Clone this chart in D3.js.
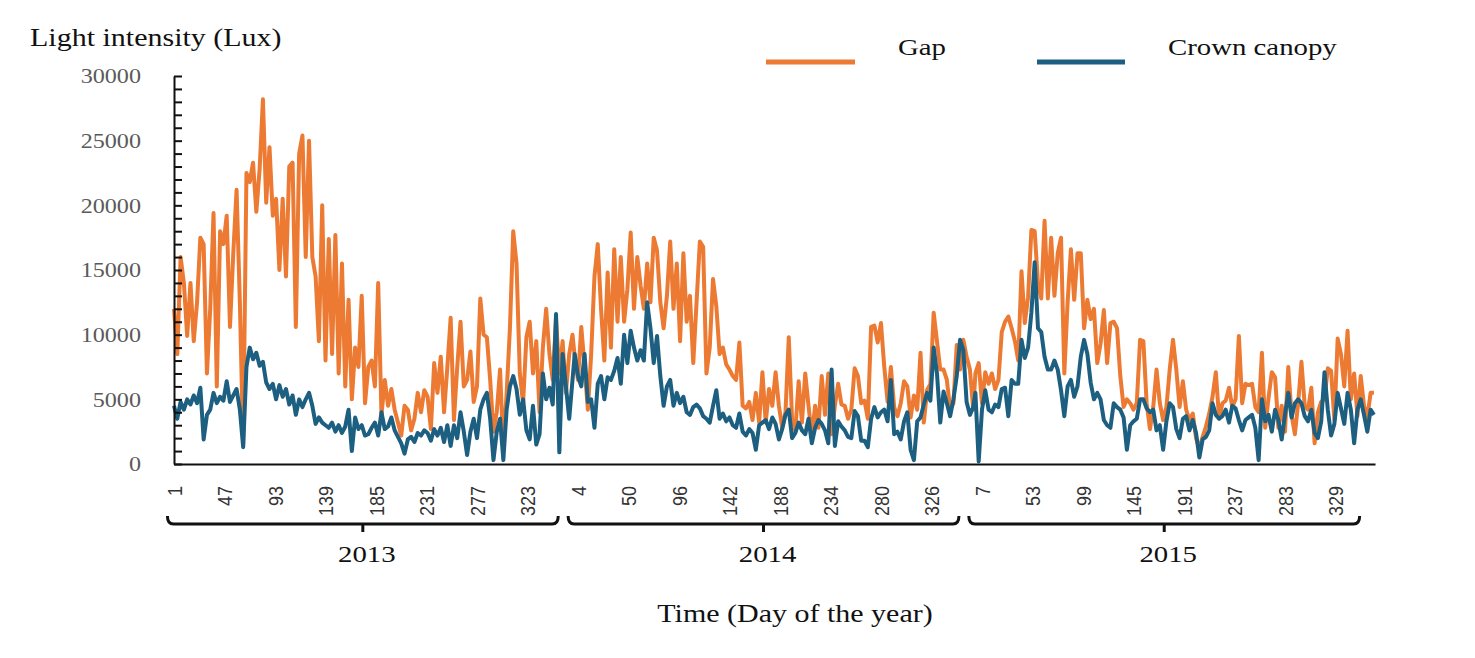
<!DOCTYPE html>
<html>
<head>
<meta charset="utf-8">
<script src="https://cdn.jsdelivr.net/npm/d3@7"></script>
<style>
  body { margin: 0; background: #fff; }
  svg { display: block; }
</style>
</head>
<body>
<svg width="1475" height="658"></svg>
<script>

// years on the x axis, each sampled every 3 days (day 1, 4, 7 ... 364)
var years = ["2013", "2014", "2015"];
var sampleDays = d3.range(1, 365, 3);

// day-of-year tick labels under each year
var tickDays = [
    [1, 47, 93, 139, 185, 231, 277, 323],
    [4, 50, 96, 142, 188, 234, 280, 326],
    [7, 53, 99, 145, 191, 237, 283, 329]
];

var yLabels = [0, 5000, 10000, 15000, 20000, 25000, 30000];

// Gap light intensity (Lux)
var gap2013 = [
    12000, 8500, 16000, 14000, 9900, 14000, 9500, 12500, 17500, 17000,
    7000, 12000, 19400, 6000, 18000, 17000, 19200, 10600, 16300, 21200,
    12500, 1500, 22500, 21800, 23300, 19500, 22800, 28200, 20200, 24500,
    19200, 20500, 15000, 20500, 14500, 23000, 23300, 10600, 24000, 25400,
    16000, 25000, 16000, 14500, 9500, 20000, 8000, 17400, 8500, 17700,
    7000, 15500, 6000, 12700, 5000, 9000, 7500, 13000, 4700, 7500,
    8000, 6000, 14000, 3800, 6500, 4500, 5800, 4200, 3200, 2200,
    4500, 4200, 2600, 3500, 5500, 4000, 5700, 5200, 2700, 7800,
    5500,
    8300, 4000, 7500, 11300, 3400, 7500, 11000, 6000, 6500, 8700,
    4800, 6000, 12800, 10000, 9800, 6500, 2500, 4000, 7300, 1200,
    5500, 10500, 18000, 15500, 7000, 4700, 9800, 11000, 7000, 9500,
    4000, 9000, 12000, 8500, 6500, 11200, 7000, 9500, 5500, 8500,
    10000
];
var gap2014 = [
    8300, 6500, 10600, 7500, 4200, 8500, 14500, 17000, 12000, 8000,
    14800, 9000, 16600, 11000, 16000, 11000, 13500, 17900, 12000, 16000,
    13800, 12000, 15500, 12500, 17500, 16500, 12500, 10500, 13000, 17200,
    12000, 15500, 9500, 16300, 11000, 13000, 7800, 12500, 17200, 16800,
    7000,
    9000, 14300, 12200, 8500, 9000, 7700, 7300, 6800, 6500, 9400,
    4500, 4300, 4800, 3400, 5500, 3200, 7100, 3200, 5800, 4500,
    7100, 4500, 2800, 4000, 9800, 3500, 2600, 6400, 3200, 7000,
    4500, 2100, 4500, 2800, 6800, 3800, 7000, 2300, 4500, 6200,
    4600,
    4500, 3500, 4200, 7400, 6800, 4700, 4900, 3500, 10600, 10700,
    9400, 10900, 7500, 4800, 7500, 4400, 3700, 4700, 6400, 6000,
    3600, 5300, 4200, 8600, 3200, 5700, 6200, 11700, 9500, 7300,
    7300, 6500, 4200, 4700, 9200, 7300, 9600, 8300, 7300, 4200
];
var gap2015 = [
    7000, 7800, 4700, 7100, 6200, 7000, 5800, 6500, 10200, 11000,
    11400, 10500, 9500, 8000, 14900, 10900, 12900, 18100, 18000, 14000,
    12800, 18800, 12800, 17500, 13000, 16300, 17500, 7000, 12500, 16600,
    12700, 16300, 16300, 10500, 12700, 11200, 12000, 7800, 9300, 11900,
    7800, 10900,
    11000, 10500, 6800, 4400, 5000, 4700, 4200, 4700, 9600, 9500,
    4700, 2700, 4400, 7300, 4700, 3400, 4400, 7300, 9600, 7300,
    4400, 6400, 4200, 3400, 3900, 2000, 1200, 2100, 2900, 3900,
    5200, 7100, 3500, 4700, 4900, 5900, 4400, 5000, 9900, 4700,
    6200,
    6100, 6200, 4400, 4000, 8600, 2800, 5100, 7100, 6700, 2800,
    4500, 2500, 7500, 3800, 2300, 4700, 7900, 4500, 4200, 5900,
    1600, 4000, 4800, 5000, 7400, 7200, 3400, 9700, 8500, 6000,
    10300, 5000, 7000, 3700, 6800, 4500, 3600, 5500, 5500
];

// Crown canopy light intensity (Lux)
var canopy2013 = [
    4500, 3500, 4800, 4200, 5000, 4600, 5300, 4700, 5900, 1900,
    3800, 4200, 5500, 4700, 5200, 4900, 6400, 4800, 5300, 5800,
    4200, 1300, 7500, 9000, 8100, 8600, 7600, 7900, 6300, 5800,
    6200, 5000, 6100, 5200, 5800, 4600, 5300, 3800, 5000, 4400,
    5000, 5500, 4500, 3100, 3600, 3200, 3000, 2800, 3200, 2500,
    3000, 2400, 2900, 4200, 1000, 3600, 2700, 3000, 2200, 2300,
    2800, 3200, 2200, 4000, 2700, 2900, 3600, 2600, 2100, 1600,
    800, 1900, 2100, 1700, 2400, 2200, 2600, 2400, 1800, 2700,
    2200,
    2800, 1700, 3000, 1400, 3000, 2000, 4000, 2500, 700, 2500,
    3500, 2000, 4200, 5000, 5500, 3500, 300, 2500, 3500, 300,
    4200, 6000, 6800, 5800, 3800, 5000, 2600, 1900, 4500, 1500,
    2300, 7000, 5000, 5900, 4600, 11600, 900, 8500, 6000, 3500,
    6500
];
var canopy2014 = [
    8500, 6800, 6000, 8500, 4800, 5000, 2800, 6200, 6800, 5000,
    6700, 6500, 7200, 8200, 6200, 10000, 7800, 10300, 9000, 8000,
    8800, 8000, 12500, 10500, 7800, 9900, 6800, 4500, 6000, 6500,
    4500, 5500, 4700, 5200, 4000, 3800, 4400, 4600, 4300, 3700,
    3500,
    3200, 4500, 5700, 3500, 3900, 3300, 3600, 3000, 2800, 3900,
    2500, 2200, 2700, 2400, 1100, 3000, 3200, 3400, 2700, 3600,
    3100, 1900, 2700, 3800, 4200, 2000, 2400, 3200, 2600, 2300,
    3500, 1600, 2800, 3400, 3100, 2600, 1600, 7300, 1400, 3300,
    2900,
    2600, 2100, 2000, 4100, 3700, 1800, 1800, 1300, 3500, 4400,
    3600, 4000, 4200, 3300, 6500, 2300, 2500, 1900, 3300, 4000,
    1100, 300, 3300, 3600, 4600, 5500, 4900, 9000, 7000, 3200,
    5600, 4700, 3700, 5000, 6800, 9600, 8800, 4800, 3800, 4400
];
var canopy2015 = [
    5500, 200, 4200, 5700, 4200, 4000, 4600, 4400, 5800, 5900,
    3700, 6500, 6200, 6200, 9600, 8200, 9000, 11700, 15600, 10500,
    10200, 8300, 7300, 7300, 8000, 7300, 5700, 3700, 6000, 6500,
    5200, 6000, 8300, 9600, 8500, 6300, 5000, 5500, 5000, 3400,
    3000, 2800,
    4700, 4400, 4200, 3600, 1100, 3000, 3300, 3500, 5000, 5000,
    4300, 4000, 4200, 2600, 3000, 1100, 3300, 4700, 4400, 2700,
    2000, 3500, 3700, 2600, 3400, 2400, 500, 1900, 2100, 2600,
    4700, 3800, 3500, 3700, 4200, 3200, 4500, 4300, 3400, 2600,
    3400,
    3600, 3800, 2800, 300, 5000, 3300, 3800, 2500, 4200, 3400,
    1900, 3800, 5500, 3600, 4700, 5000, 4700, 3700, 3300, 4200,
    2400, 2000, 3300, 7100, 4200, 2200, 3100, 5500, 4300, 3100,
    5500, 4200, 1600, 4200, 5000, 3800, 2500, 4200, 3800
];

var gapColor = "#ec7a32";
var canopyColor = "#1d5f80";

window.onload = function() {
    makeChart();
}

// horizontally stretched serif text, like the original figure
function addText(parent, str, px, py, size, anchor, sx) {
    return parent.append("text")
        .attr("transform", "translate(" + px + "," + py + ") scale(" + sx + ",1)")
        .attr("text-anchor", anchor)
        .style("font-family", "'Liberation Serif', 'Times New Roman', serif")
        .style("font-size", size + "px")
        .attr("fill", "#111")
        .text(str);
}

function makeChart() {

    var svg = d3.select("svg");

    // continuous day index: 2013 day d -> d, 2014 -> 365 + d, 2015 -> 730 + d
    var x = d3.scaleLinear().domain([1, 1095]).range([174, 1375]);
    var y = d3.scaleLinear().domain([0, 30000]).range([464, 76]);

    function toPoints(byYear) {
        var pts = [];
        byYear.forEach(function(vals, k) {
            vals.forEach(function(v, j) {
                pts.push({ i: k * 365 + sampleDays[j], v: v });
            });
        });
        return pts;
    }

    var gapPts = toPoints([gap2013, gap2014, gap2015]);
    var canopyPts = toPoints([canopy2013, canopy2014, canopy2015]);

    var line = d3.line()
        .x(function(d) { return x(d.i); })
        .y(function(d) { return y(d.v); });

    // data lines, canopy on top
    svg.append("path")
        .datum(gapPts)
        .attr("fill", "none")
        .attr("stroke", gapColor)
        .attr("stroke-width", 4)
        .attr("stroke-linejoin", "round")
        .attr("d", line);

    svg.append("path")
        .datum(canopyPts)
        .attr("fill", "none")
        .attr("stroke", canopyColor)
        .attr("stroke-width", 4)
        .attr("stroke-linejoin", "round")
        .attr("d", line);

    // y axis, ticks every 1000 pointing inward
    var yAxis = svg.append("g")
        .attr("transform", "translate(174,0)")
        .call(d3.axisRight(y)
            .tickValues(d3.range(0, 30001, 1000))
            .tickSize(8)
            .tickSizeOuter(0)
            .tickFormat(""));
    yAxis.select(".domain").attr("stroke", "#111").attr("stroke-width", 2);
    yAxis.selectAll(".tick line").attr("stroke", "#111").attr("stroke-width", 2);

    yLabels.forEach(function(v) {
        addText(svg, d3.format("d")(v), 141, y(v), 21, "end", 1.15)
            .attr("dy", "0.35em")
            .attr("fill", "#5a5a5a");
    });

    // x axis with rotated day-of-year labels
    var tickIndex = [];
    var tickText = [];
    tickDays.forEach(function(days, k) {
        days.forEach(function(d) {
            tickIndex.push(k * 365 + d);
            tickText.push(d);
        });
    });

    var xAxis = svg.append("g")
        .attr("transform", "translate(0,464)")
        .call(d3.axisBottom(x)
            .tickValues(tickIndex)
            .tickSize(0)
            .tickSizeOuter(0)
            .tickFormat(function(d, i) { return tickText[i]; }));
    xAxis.select(".domain").attr("stroke", "#111").attr("stroke-width", 2);

    // rotated labels, glyphs widened a little like the stretched original
    xAxis.selectAll(".tick text")
        .attr("transform", "rotate(-90) scale(1,1.15)")
        .attr("x", -22)
        .attr("y", 0)
        .attr("dy", "0.35em")
        .style("text-anchor", "end")
        .style("font-family", "'Liberation Sans', Arial, sans-serif")
        .style("font-size", "18px")
        .attr("fill", "#333");

    // year brackets under the day labels
    var by = 524;
    years.forEach(function(yr, k) {
        var x0 = x(k * 365 - 5);
        var x1 = x(k * 365 + 351);
        var xc = (x0 + x1) / 2;
        svg.append("path")
            .attr("d", "M" + x0 + "," + (by - 8) +
                " Q" + x0 + "," + by + " " + (x0 + 6) + "," + by +
                " L" + (x1 - 6) + "," + by +
                " Q" + x1 + "," + by + " " + x1 + "," + (by - 8) +
                " M" + xc + "," + by + " L" + xc + "," + (by + 8))
            .attr("fill", "none")
            .attr("stroke", "#111")
            .attr("stroke-width", 3);
        addText(svg, yr, xc + 4, 562, 24, "middle", 1.2);
    });

    // titles
    addText(svg, "Light intensity (Lux)", 30, 46, 25, "start", 1.2);
    addText(svg, "Time (Day of the year)", 795, 622, 25, "middle", 1.2);

    // legend
    var legend = [
        { name: "Gap", color: gapColor, x0: 766, x1: 855, tx: 898 },
        { name: "Crown canopy", color: canopyColor, x0: 1037, x1: 1125, tx: 1168 }
    ];
    legend.forEach(function(l) {
        svg.append("line")
            .attr("x1", l.x0).attr("x2", l.x1)
            .attr("y1", 62).attr("y2", 62)
            .attr("stroke", l.color)
            .attr("stroke-width", 5);
        addText(svg, l.name, l.tx, 55, 24, "start", 1.2);
    });
}
</script>
</body>
</html>
